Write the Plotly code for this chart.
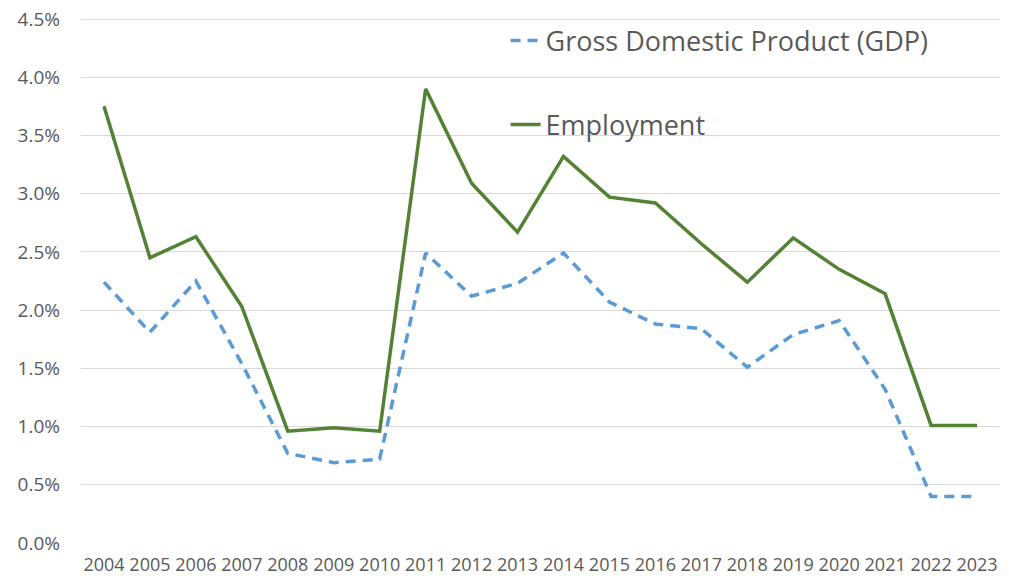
import plotly.graph_objects as go

years = [str(y) for y in range(2004, 2024)]
gdp = [2.24, 1.81, 2.25, 1.54, 0.77, 0.69, 0.72, 2.49, 2.12, 2.23, 2.49, 2.07, 1.88, 1.84, 1.51, 1.79, 1.91, 1.32, 0.40, 0.40]
employment = [3.75, 2.45, 2.63, 2.03, 0.96, 0.99, 0.96, 3.90, 3.09, 2.67, 3.32, 2.97, 2.92, 2.57, 2.24, 2.62, 2.35, 2.14, 1.01, 1.01]
y_ticks = [0, 0.5, 1.0, 1.5, 2.0, 2.5, 3.0, 3.5, 4.0, 4.5]

fig = go.Figure()
fig.add_trace(go.Scatter(
    x=years, y=gdp, mode="lines",
    name="Gross Domestic Product (GDP)", legendgroup="a",
    line=dict(color="#5B9BD5", width=3.5, dash="10px,7px"),
))
fig.add_trace(go.Scatter(
    x=years, y=employment, mode="lines",
    name="Employment", legendgroup="b",
    line=dict(color="#548235", width=3.5),
))

# page body has an 8px default margin, so the figure is sized to fit inside the window
fig.update_layout(
    width=1001, height=568,
    margin=dict(l=73, r=9, t=5, b=33),
    paper_bgcolor="white", plot_bgcolor="white",
    font=dict(family="Open Sans", color="#595959"),
    legend=dict(
        x=0.462, y=0.9936, xanchor="left", yanchor="top",
        font=dict(size=27, color="#595959"),
        tracegroupgap=46, bgcolor="rgba(0,0,0,0)",
    ),
    xaxis=dict(
        type="category", range=[-0.5, 19.5], automargin=False,
        showgrid=False, showline=False, ticks="",
        tickfont=dict(size=18, color="#595959"),
        ticklabelstandoff=9, tickangle=0, ticklabeloverflow="allow",
    ),
    yaxis=dict(
        range=[0, 4.5515], automargin=False,
        tickvals=y_ticks,
        ticktext=[f"{v:.1f}%" for v in y_ticks],
        showgrid=True, gridcolor="#D9D9D9", gridwidth=1.3,
        zeroline=False, showline=False, ticks="",
        tickfont=dict(size=19, color="#595959"),
        ticklabelstandoff=20, ticklabeloverflow="allow",
    ),
)

fig.write_html("out.html")
